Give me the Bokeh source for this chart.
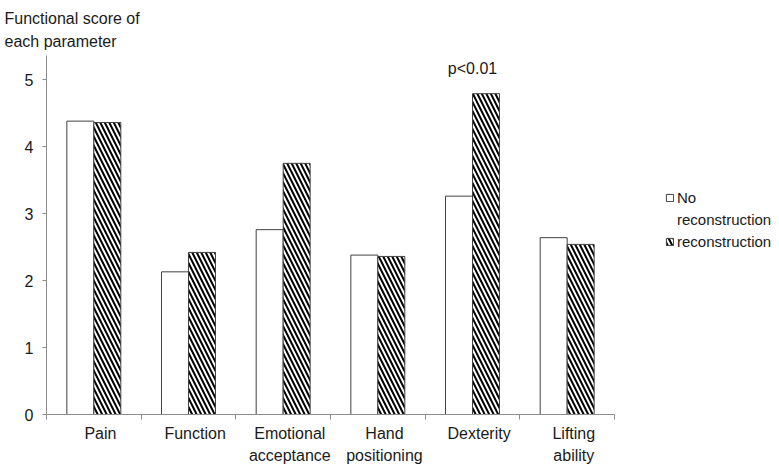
from bokeh.plotting import figure
from bokeh.models import (Range1d, FixedTicker, Legend, LegendItem, ColumnDataSource, Label)
from bokeh.embed import file_html
from bokeh.resources import INLINE

# ---- data ----
categories = ["Pain", "Function", "Emotional\nacceptance", "Hand\npositioning", "Dexterity", "Lifting\nability"]
no_reconstruction = [4.38, 2.13, 2.76, 2.38, 3.26, 2.64]
reconstruction = [4.36, 2.42, 3.75, 2.36, 4.79, 2.54]
y_ticks = [0, 1, 2, 3, 4, 5]
legend_lines = ["No", "reconstruction", "reconstruction"]
annotation_text = "p<0.01"
annotation_category = "Dexterity"
annotation_value = 5.17

FONT = "Liberation Sans"
TXT = "#1a1a1a"
AXC = "#8c8c8c"

n = len(categories)
centers = [i + 0.5 for i in range(n)]
bw = 0.285

src = ColumnDataSource(dict(
    x_no=[c - bw / 2 for c in centers],
    x_re=[c + bw / 2 for c in centers],
    no=no_reconstruction,
    re=reconstruction,
))

p = figure(width=771, height=462, output_backend="svg", toolbar_location=None,
           x_range=Range1d(0, n), y_range=Range1d(0, 5.36),
           min_border_left=46, min_border_right=157, min_border_top=55, min_border_bottom=0,
           frame_width=568, frame_height=359)

r1 = p.vbar(x="x_no", top="no", width=bw, source=src, fill_color="white",
            line_color="#404040", line_width=1)
r2 = p.vbar(x="x_re", top="re", width=bw, source=src, fill_color="white",
            line_color="#404040", line_width=1,
            hatch_pattern="left_diagonal_line", hatch_color="black",
            hatch_scale=9, hatch_weight=2)
# empty, invisible renderer used only for the wrapped second line of the first legend entry
r_blank = p.vbar(x=[], top=[], width=bw, fill_alpha=0, line_alpha=0)

# axes
p.xgrid.visible = False
p.ygrid.visible = False
p.outline_line_color = None

label_shift = 0.07
xt = FixedTicker(ticks=[c + label_shift for c in centers], minor_ticks=list(range(n + 1)))
p.xaxis.ticker = xt
p.xaxis.major_label_overrides = {c + label_shift: lab for c, lab in zip(centers, categories)}
p.xaxis.major_tick_out = 0
p.xaxis.major_tick_in = 0
p.xaxis.minor_tick_out = 5
p.xaxis.minor_tick_in = 0
p.xaxis.minor_tick_line_color = AXC
p.xaxis.axis_line_color = AXC
p.xaxis.major_label_text_font = FONT
p.xaxis.major_label_text_font_size = "16px"
p.xaxis.major_label_text_color = TXT
p.xaxis.major_label_text_line_height = 1.3
p.xaxis.major_label_standoff = 5

p.yaxis.ticker = FixedTicker(ticks=y_ticks)
p.yaxis.minor_tick_line_color = None
p.yaxis.major_tick_out = 4
p.yaxis.major_tick_in = 0
p.yaxis.major_tick_line_color = AXC
p.yaxis.axis_line_color = AXC
p.yaxis.major_label_text_font = FONT
p.yaxis.major_label_text_font_size = "16px"
p.yaxis.major_label_text_color = TXT
p.yaxis.major_label_standoff = 9

# title
p.title.text = "Functional score of\neach parameter"
p.title.text_font = FONT
p.title.text_font_size = "16px"
p.title.text_font_style = "normal"
p.title.text_color = TXT
p.title.text_line_height = 1.35
p.title.align = "left"
p.title.offset = -42
p.title.standoff = 11

# annotation
ax = centers[[c.replace("\n", " ") for c in categories].index(annotation_category)]
p.add_layout(Label(x=ax, y=annotation_value, text=annotation_text, text_align="center",
                   text_baseline="middle", text_font=FONT, text_font_size="16px",
                   text_color=TXT))

legend = Legend(items=[LegendItem(label=legend_lines[0], renderers=[r1]),
                       LegendItem(label=legend_lines[1], renderers=[r_blank]),
                       LegendItem(label=legend_lines[2], renderers=[r2])],
                location=(51, 162))
legend.border_line_color = None
legend.background_fill_alpha = 0
legend.padding = 0
legend.margin = 0
legend.glyph_width = 9
legend.glyph_height = 9
legend.label_height = 22
legend.label_standoff = 3
legend.spacing = 0
legend.label_text_font = FONT
legend.label_text_font_size = "15px"
legend.label_text_color = TXT
p.add_layout(legend, "right")

open("out.html", "w").write(file_html(p, INLINE))
